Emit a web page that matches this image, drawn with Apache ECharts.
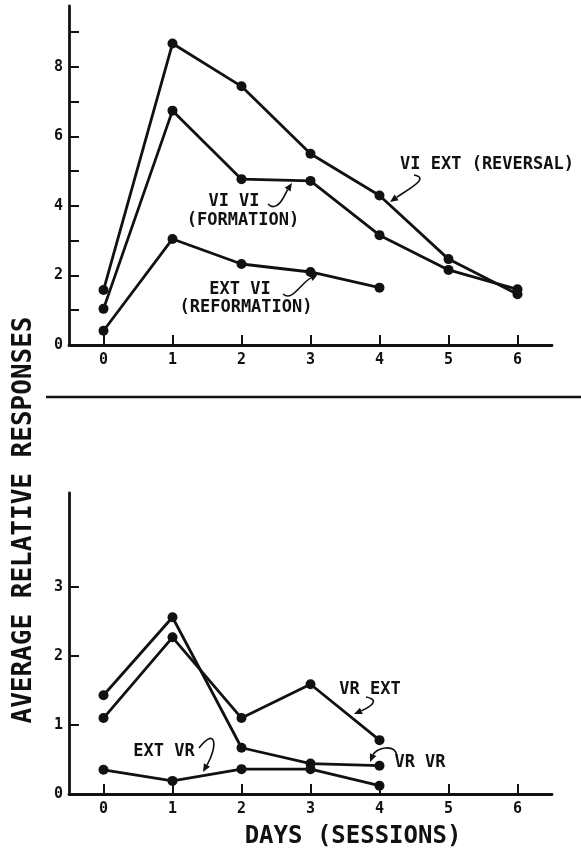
<!DOCTYPE html>
<html>
<head>
<meta charset="utf-8">
<script src="https://cdn.jsdelivr.net/npm/echarts@6/dist/echarts.min.js"></script>
<style>
  html, body { margin: 0; padding: 0; background: #fff; }
  #chart { width: 581px; height: 850px; }
</style>
</head>
<body>
<div id="chart"></div>
<script>
// days on the x axis
const days = [0, 1, 2, 3, 4, 5, 6];
const dayTicks = [0, 1, 2, 3, 4, 5, 6];

// upper panel: VI schedules
const viExt = [1.58, 8.67, 7.44, 5.50, 4.30, 2.47, 1.46];
const viVi = [1.04, 6.74, 4.77, 4.72, 3.16, 2.16, 1.60];
const extVi = [0.41, 3.05, 2.33, 2.10, 1.65];
const topTicks = [1, 2, 3, 4, 5, 6, 7, 8, 9];
const topLabels = [0, 2, 4, 6, 8];

// lower panel: VR schedules
const vrVr = [1.43, 2.56, 0.67, 0.44, 0.41];
const vrExt = [1.10, 2.27, 1.10, 1.59, 0.78];
const extVr = [0.35, 0.19, 0.36, 0.36, 0.12];
const botTicks = [1, 2, 3];
const botLabels = [0, 1, 2, 3];

const INK = "#111";
const MONO = "DejaVu Sans Mono";

const pairs = (vals) => vals.map((v, i) => [days[i], v]);

const line = (name, vals, idx) => ({
  name: name,
  type: "line",
  xAxisIndex: idx,
  yAxisIndex: idx,
  data: pairs(vals),
  symbol: "circle",
  symbolSize: 10,
  lineStyle: { color: INK, width: 2.8 },
  itemStyle: { color: INK },
  animation: false,
});

const xAx = (idx) => ({
  type: "value",
  gridIndex: idx,
  min: -0.5,
  max: 6.5,
  axisLine: { onZero: false, lineStyle: { color: INK, width: 2.8 } },
  axisTick: { inside: true, length: 10, customValues: dayTicks, lineStyle: { color: INK, width: 2 } },
  axisLabel: { customValues: dayTicks, margin: 8, color: INK, fontFamily: MONO, fontWeight: "bold", fontSize: 15 },
  splitLine: { show: false },
});

const yAx = (idx, max, ticks, labels) => ({
  type: "value",
  gridIndex: idx,
  min: 0,
  max: max,
  axisLine: { show: true, onZero: false, lineStyle: { color: INK, width: 2.8 } },
  axisTick: { show: true, inside: true, length: 10, customValues: ticks, lineStyle: { color: INK, width: 2 } },
  axisLabel: { customValues: labels, margin: 6, color: INK, fontFamily: MONO, fontWeight: "bold", fontSize: 15 },
  splitLine: { show: false },
});

const label = (text, x, y, size) => ({
  type: "text",
  x: x,
  y: y,
  style: {
    text: text,
    fill: INK,
    font: "bold " + (size || 17) + "px '" + MONO + "'",
    align: "center",
    verticalAlign: "middle",
  },
});

// squiggly pointer with a filled head at its end
const arrow = (x1, y1, cx1, cy1, cx2, cy2, x2, y2) => {
  const a = Math.atan2(y2 - cy2, x2 - cx2);
  const L = 8, W = 3.5;
  const bx = x2 - L * Math.cos(a), by = y2 - L * Math.sin(a);
  return [
    {
      type: "bezierCurve",
      shape: { x1: x1, y1: y1, cpx1: cx1, cpy1: cy1, cpx2: cx2, cpy2: cy2, x2: bx, y2: by },
      style: { stroke: INK, lineWidth: 1.6, fill: null },
    },
    {
      type: "polygon",
      shape: {
        points: [
          [x2, y2],
          [bx - W * Math.sin(a), by + W * Math.cos(a)],
          [bx + W * Math.sin(a), by - W * Math.cos(a)],
        ],
      },
      style: { fill: INK },
    },
  ];
};

const chart = echarts.init(document.getElementById("chart"));

const option = {
  backgroundColor: "#fff",
  animation: false,
  grid: [
    { left: 69, top: 6, width: 483, height: 339 },
    { left: 69, top: 493, width: 483, height: 301 },
  ],
  xAxis: [xAx(0), xAx(1)],
  yAxis: [yAx(0, 9.75, topTicks, topLabels), yAx(1, 4.36, botTicks, botLabels)],
  series: [
    line("VI EXT (REVERSAL)", viExt, 0),
    line("VI VI (FORMATION)", viVi, 0),
    line("EXT VI (REFORMATION)", extVi, 0),
    line("VR VR", vrVr, 1),
    line("VR EXT", vrExt, 1),
    line("EXT VR", extVr, 1),
  ],
  graphic: [
    // divider between the panels
    { type: "line", shape: { x1: 46, y1: 397, x2: 581, y2: 397 }, style: { stroke: INK, lineWidth: 2.5 } },
    // shared y title
    {
      type: "text",
      x: 24,
      y: 520,
      rotation: Math.PI / 2,
      style: {
        text: "AVERAGE RELATIVE RESPONSES",
        fill: INK,
        font: "bold 26px '" + MONO + "'",
        align: "center",
        verticalAlign: "middle",
      },
    },
    label("DAYS (SESSIONS)", 353, 837, 24),
    label("VI EXT (REVERSAL)", 487, 165),
    label("VI VI", 234, 202),
    label("(FORMATION)", 243, 221),
    label("EXT VI", 240, 290),
    label("(REFORMATION)", 246, 308),
    label("VR EXT", 370, 690),
    label("EXT VR", 164, 752),
    label("VR VR", 420, 763),
    ...arrow(268, 204, 278, 214, 286, 192, 292, 183),
    ...arrow(283, 294, 292, 302, 300, 284, 318, 274),
    ...arrow(414, 175, 430, 178, 410, 188, 390, 202),
    ...arrow(366, 697, 382, 700, 368, 708, 354, 714),
    ...arrow(397, 756, 395, 743, 376, 748, 370, 762),
    ...arrow(199, 748, 216, 726, 218, 746, 203, 772),
  ],
};

chart.setOption(option);
</script>
</body>
</html>
